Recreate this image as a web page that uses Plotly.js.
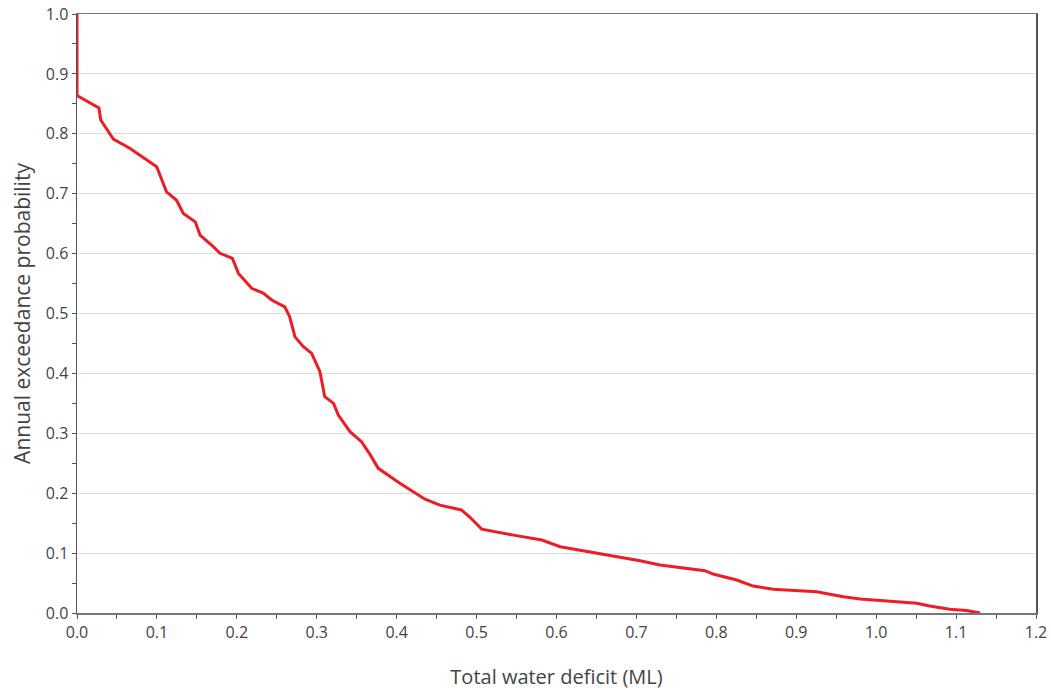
<!DOCTYPE html>
<html>
<head>
<meta charset="utf-8">
<script src="https://cdn.plot.ly/plotly-3.0.1.min.js"></script>
<style>html,body{margin:0;padding:0;background:#fff}#chart{width:1051px;height:690px}</style>
</head>
<body>
<div id="chart"></div>
<script>
const deficit = [0, 0, 0.0275, 0.0297, 0.0455, 0.066, 0.0997, 0.112, 0.1246, 0.133, 0.148, 0.154, 0.1705, 0.179, 0.1945, 0.202, 0.2186, 0.233, 0.2436, 0.26, 0.266, 0.2728, 0.283, 0.2936, 0.304, 0.31, 0.321, 0.327, 0.3416, 0.356, 0.367, 0.377, 0.404, 0.421, 0.4355, 0.454, 0.481, 0.4917, 0.5064, 0.546, 0.5816, 0.6046, 0.6338, 0.6755, 0.7045, 0.7295, 0.7545, 0.7858, 0.796, 0.8255, 0.846, 0.8713, 0.9255, 0.959, 0.98, 1.005, 1.021, 1.0507, 1.067, 1.092, 1.113, 1.13];
const probability = [1.0, 0.864, 0.843, 0.823, 0.791, 0.776, 0.745, 0.703, 0.689, 0.667, 0.653, 0.631, 0.6115, 0.6005, 0.592, 0.567, 0.542, 0.534, 0.5225, 0.511, 0.495, 0.461, 0.445, 0.4335, 0.403, 0.361, 0.350, 0.3305, 0.3027, 0.286, 0.264, 0.2415, 0.2165, 0.2025, 0.19, 0.180, 0.172, 0.1598, 0.140, 0.130, 0.1219, 0.1107, 0.104, 0.095, 0.0873, 0.080, 0.0757, 0.0706, 0.065, 0.055, 0.045, 0.0395, 0.0356, 0.027, 0.0234, 0.021, 0.019, 0.0162, 0.0117, 0.0062, 0.004, 0.0];
const xTitle = "Total water deficit (ML)";
const yTitle = "Annual exceedance probability";

const fam = "'Open Sans', Lato, sans-serif";
const trace = {x: deficit, y: probability, type: "scatter", mode: "lines",
  line: {color: "#ee1c25", width: 3, shape: "linear"}, cliponaxis: false, hoverinfo: "x+y"};
const layout = {
  width: 1051, height: 690,
  margin: {l: 77, r: 15, t: 14, b: 77},
  paper_bgcolor: "#fff", plot_bgcolor: "#fff",
  showlegend: false,
  font: {family: fam, size: 16, color: "#444"},
  xaxis: {
    range: [0, 1.2], dtick: 0.1, tickformat: ".1f",
    showgrid: false, zeroline: false,
    showline: true, linecolor: "#777", linewidth: 1.5, mirror: true,
    ticks: "outside", ticklen: 4, tickcolor: "#555",
    minor: {dtick: 0.05, ticks: "outside", ticklen: 4, tickcolor: "#555", showgrid: false},
    tickfont: {family: fam, size: 16, color: "#444"},
    title: {text: xTitle, font: {family: fam, size: 20, color: "#444"}, standoff: 28}
  },
  yaxis: {
    range: [0, 1.0], dtick: 0.1, tickformat: ".1f",
    showgrid: true, gridcolor: "#ddd", gridwidth: 1, zeroline: false,
    showline: true, linecolor: "#555", linewidth: 1.5, mirror: true,
    ticks: "outside", ticklen: 4, tickcolor: "#555",
    minor: {dtick: 0.05, ticks: "outside", ticklen: 4, tickcolor: "#555", showgrid: false},
    tickfont: {family: fam, size: 16, color: "#444"},
    title: {text: yTitle, font: {family: fam, size: 21, color: "#444"}, standoff: 9}
  }
};
Plotly.newPlot("chart", [trace], layout, {staticPlot: true, displayModeBar: false});
</script>
</body>
</html>
